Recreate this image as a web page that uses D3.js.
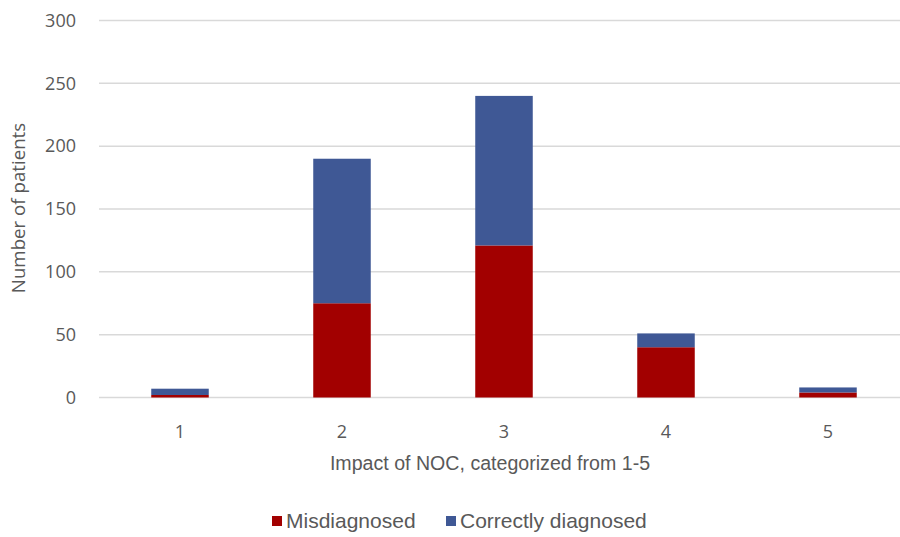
<!DOCTYPE html>
<html>
<head>
  <meta charset="utf-8">
  <script src="https://cdn.jsdelivr.net/npm/d3@7/dist/d3.min.js"></script>
  <style>
    body { margin: 0; background: #fff; }
  </style>
</head>
<body>
  <svg width="900" height="537" id="mainsvg"></svg>
  <script>
    const categories = ['1', '2', '3', '4', '5'];
    const misdiagnosed = [2, 75, 121, 40, 4];
    const correctly = [5, 115, 119, 11, 4];
    const yTicks = [0, 50, 100, 150, 200, 250, 300];
    const seriesNames = ['Misdiagnosed', 'Correctly diagnosed'];
    const colors = ['#A20000', '#3F5895'];

    const svg = d3.select('#mainsvg');
    const textColor = '#595959';

    const data = categories.map((c, i) => ({ cat: c, Misdiagnosed: misdiagnosed[i], 'Correctly diagnosed': correctly[i] }));
    const stack = d3.stack().keys(seriesNames)(data);

    const yScale = d3.scaleLinear().domain([0, 300]).range([397.5, 20.5]);
    const xScale = d3.scaleBand()
      .domain(categories)
      .range([99, 909])
      .paddingInner(0.645)
      .paddingOuter(0.3225);

    // 网格线
    svg.append('g').selectAll('line').data(yTicks).join('line')
      .attr('x1', 99).attr('x2', 900)
      .attr('y1', d => yScale(d)).attr('y2', d => yScale(d))
      .attr('stroke', '#d9d9d9').attr('stroke-width', 1.5);

    // Y轴刻度
    svg.append('g').selectAll('text').data(yTicks).join('text')
      .attr('x', 76).attr('y', d => yScale(d))
      .attr('dy', '0.35em')
      .attr('text-anchor', 'end')
      .attr('font-family', 'Open Sans, sans-serif')
      .attr('font-size', 18)
      .attr('fill', textColor)
      .text(d => d);

    // 柱子
    svg.append('g').selectAll('g').data(stack).join('g')
      .attr('fill', (d, i) => colors[i])
      .selectAll('rect').data(d => d).join('rect')
      .attr('x', d => xScale(d.data.cat))
      .attr('y', d => yScale(d[1]))
      .attr('width', xScale.bandwidth())
      .attr('height', d => yScale(d[0]) - yScale(d[1]));

    // X轴刻度
    svg.append('g').selectAll('text').data(categories).join('text')
      .attr('x', d => xScale(d) + xScale.bandwidth() / 2)
      .attr('y', 432)
      .attr('dy', '0.35em')
      .attr('text-anchor', 'middle')
      .attr('font-family', 'Open Sans, sans-serif')
      .attr('font-size', 18)
      .attr('fill', textColor)
      .text(d => d);

    // 轴标题
    svg.append('text')
      .attr('x', 490).attr('y', 470)
      .attr('text-anchor', 'middle')
      .attr('font-family', 'Liberation Sans, Arial, sans-serif')
      .attr('font-size', 19.6)
      .attr('fill', textColor)
      .text('Impact of NOC, categorized from 1-5');

    svg.append('text')
      .attr('transform', 'translate(25, 208) rotate(-90)')
      .attr('text-anchor', 'middle')
      .attr('font-family', 'Open Sans, sans-serif')
      .attr('font-size', 18.7)
      .attr('fill', textColor)
      .text('Number of patients');

    // 图例
    const legendX = [272, 446];
    const legend = svg.append('g').selectAll('g').data(seriesNames).join('g')
      .attr('transform', (d, i) => `translate(${legendX[i]}, 521)`);
    legend.append('rect')
      .attr('x', 0).attr('y', -5).attr('width', 10).attr('height', 10)
      .attr('fill', (d, i) => colors[i]);
    legend.append('text')
      .attr('x', 14).attr('y', 0).attr('dy', '0.35em')
      .attr('font-family', 'Liberation Sans, Arial, sans-serif')
      .attr('font-size', 21)
      .attr('fill', textColor)
      .text(d => d);
  </script>
</body>
</html>
